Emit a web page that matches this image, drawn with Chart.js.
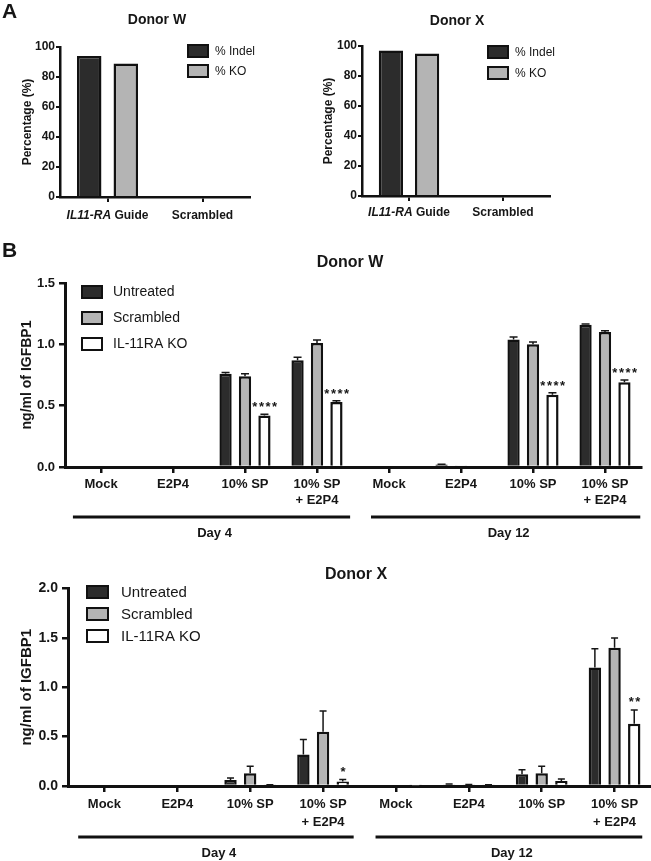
<!DOCTYPE html>
<html>
<head>
<meta charset="utf-8">
<script src="https://cdn.jsdelivr.net/npm/chart.js@4.4.1/dist/chart.umd.min.js"></script>
<style>
  body { margin: 0; background: #fff; }
  #fig { position: relative; width: 651px; height: 861px; overflow: hidden; background: #fff; }
  #fig canvas { position: absolute; }
</style>
</head>
<body>
<div id="fig">
  <canvas id="aW" width="320" height="235" style="left:0;top:0"></canvas>
  <canvas id="aX" width="331" height="235" style="left:320px;top:0"></canvas>
  <canvas id="bW" width="651" height="315" style="left:0;top:235px"></canvas>
  <canvas id="bX" width="651" height="311" style="left:0;top:550px"></canvas>
</div>
<script>
// ---- panel A: editing efficiency ----
const aCategories = ['IL11-RA Guide', 'Scrambled'];
const aGeneName = 'IL11-RA';   // printed in italics
const aSeries = ['% Indel', '% KO'];
const aTicks = [0, 20, 40, 60, 80, 100];
const aDonorWIndel = [94, 0.6];
const aDonorWKO = [89, 0.6];
const aDonorXIndel = [97, 0];
const aDonorXKO = [95, 0];

// ---- panel B: IGFBP1 secretion ----
const bCategories = ['Mock', 'E2P4', '10% SP', ['10% SP', '+ E2P4'],
                     'Mock', 'E2P4', '10% SP', ['10% SP', '+ E2P4']];
const bGroups = ['Day 4', 'Day 12'];
const bGroupSpans = [[0, 3], [4, 7]];
const bSeries = ['Untreated', 'Scrambled', 'IL-11RA KO'];
const bWTicks = [0, 0.5, 1.0, 1.5];
const bXTicks = [0, 0.5, 1.0, 1.5, 2.0];

// donor W
const wUntreated    = [0, 0, 0.76, 0.87, 0, 0.02, 1.04, 1.16];
const wUntreatedErr = [0, 0, 0.01, 0.025, 0, 0.003, 0.02, 0.005];
const wScrambled    = [0, 0, 0.74, 1.01, 0, 0.005, 1.00, 1.10];
const wScrambledErr = [0, 0, 0.02, 0.025, 0, 0, 0.02, 0.01];
const wKO           = [0, 0, 0.42, 0.53, 0, 0, 0.59, 0.69];
const wKOErr        = [0, 0, 0.01, 0.01, 0, 0, 0.015, 0.02];
const wKOStars      = ['', '', '****', '****', '', '', '****', '****'];

// donor X
const xUntreated    = [0, 0, 0.06, 0.32, 0, 0.015, 0.12, 1.20];
const xUntreatedErr = [0, 0, 0.02, 0.15, 0, 0.005, 0.045, 0.19];
const xScrambled    = [0, 0, 0.13, 0.55, 0, 0.01, 0.13, 1.40];
const xScrambledErr = [0, 0, 0.07, 0.21, 0, 0.005, 0.07, 0.10];
const xKO           = [0, 0, 0.01, 0.045, 0.003, 0.01, 0.05, 0.63];
const xKOErr        = [0, 0, 0.003, 0.02, 0, 0.003, 0.02, 0.14];
const xKOStars      = ['', '', '', '*', '', '', '', '**'];

const FONT = "'Liberation Sans', Arial, Helvetica, sans-serif";
const INK = '#161616';
const EDGE = '#111111';
const DARK = '#2c2c2c';
const GRAY = '#b4b4b4';

Chart.defaults.font.family = FONT;
Chart.defaults.color = INK;
Chart.defaults.animation = false;

function figurePlugin(spec) {
  return {
    id: 'figure_' + spec.id,
    afterDatasetsDraw(chart) {
      const ctx = chart.ctx, ys = chart.scales.y;
      ctx.save();
      chart.data.datasets.forEach((ds, k) => {
        chart.getDatasetMeta(k).data.forEach((bar, i) => {
          const err = ds.errors ? ds.errors[i] : 0;
          const top = ys.getPixelForValue(ds.data[i] + err);
          if (err > 0) {
            ctx.strokeStyle = INK;
            ctx.lineWidth = spec.errWidth;
            ctx.beginPath();
            ctx.moveTo(bar.x, bar.y);
            ctx.lineTo(bar.x, top);
            ctx.moveTo(bar.x - spec.cap, top);
            ctx.lineTo(bar.x + spec.cap, top);
            ctx.stroke();
          }
          if (ds.stars && ds.stars[i]) {
            ctx.font = `bold ${spec.starSize}px ${FONT}`;
            ctx.fillStyle = INK;
            ctx.textAlign = 'center';
            ctx.textBaseline = 'alphabetic';
            ctx.letterSpacing = spec.starSpacing;
            ctx.fillText(ds.stars[i], bar.x + 1, top - spec.starGap);
            ctx.letterSpacing = '0px';
          }
        });
      });
      ctx.restore();
    },
    afterDraw(chart) {
      const ctx = chart.ctx, xs = chart.scales.x, area = chart.chartArea;
      ctx.save();
      ctx.fillStyle = INK;
      ctx.textBaseline = 'middle';

      if (spec.letter) {
        ctx.font = `bold 21px ${FONT}`;
        ctx.textAlign = 'left';
        ctx.fillText(spec.letter, 2, spec.letterY);
      }

      ctx.font = `bold ${spec.titleSize}px ${FONT}`;
      ctx.textAlign = 'center';
      ctx.fillText(spec.title, spec.titleX, spec.titleY);

      // legend
      const lg = spec.legend;
      chart.data.datasets.forEach((ds, k) => {
        const cy = lg.y + k * lg.row;
        ctx.fillStyle = ds.backgroundColor;
        ctx.fillRect(lg.x, cy - lg.h / 2, lg.w, lg.h);
        ctx.strokeStyle = EDGE;
        ctx.lineWidth = 2;
        ctx.strokeRect(lg.x, cy - lg.h / 2, lg.w, lg.h);
        ctx.fillStyle = INK;
        ctx.font = `${lg.size}px ${FONT}`;
        ctx.textAlign = 'left';
        ctx.fillText(ds.label, lg.x + lg.w + lg.gap, cy + 0.5);
      });

      // category labels with an italic gene name (panel A)
      if (spec.xLabelDy) {
        chart.data.labels.forEach((lab, i) => {
          const cx = xs.getPixelForValue(i);
          const cy = area.bottom + spec.xLabelDy;
          const ital = lab.startsWith(aGeneName) ? aGeneName : '';
          const rest = lab.slice(ital.length);
          ctx.font = `italic bold 12px ${FONT}`;
          const w1 = ctx.measureText(ital).width;
          ctx.font = `bold 12px ${FONT}`;
          const w2 = ctx.measureText(rest).width;
          let x0 = cx - (w1 + w2) / 2;
          ctx.textAlign = 'left';
          ctx.font = `italic bold 12px ${FONT}`;
          ctx.fillText(ital, x0, cy);
          ctx.font = `bold 12px ${FONT}`;
          ctx.fillText(rest, x0 + w1, cy);
        });
      }

      // day group bars (panel B)
      if (spec.groups) {
        const cw = xs.getPixelForValue(1) - xs.getPixelForValue(0);
        bGroups.forEach((name, g) => {
          const x0 = xs.getPixelForValue(bGroupSpans[g][0]) - spec.groupInset[g][0] * cw;
          const x1 = xs.getPixelForValue(bGroupSpans[g][1]) + spec.groupInset[g][1] * cw;
          const ly = area.bottom + spec.groupLineDy;
          ctx.strokeStyle = EDGE;
          ctx.lineWidth = 3;
          ctx.beginPath();
          ctx.moveTo(x0, ly);
          ctx.lineTo(x1, ly);
          ctx.stroke();
          ctx.font = `bold 13px ${FONT}`;
          ctx.textAlign = 'center';
          ctx.fillText(name, (x0 + x1) / 2 + 3, area.bottom + spec.groupLabelDy);
        });
      }
      ctx.restore();
    }
  };
}

function panelA(id, indel, ko, lay) {
  return new Chart(document.getElementById(id), {
    type: 'bar',
    data: {
      labels: aCategories,
      datasets: [
        { label: aSeries[0], data: indel, backgroundColor: DARK, borderColor: EDGE, borderWidth: 2.5 },
        { label: aSeries[1], data: ko, backgroundColor: GRAY, borderColor: EDGE, borderWidth: 2.5 }
      ]
    },
    options: {
      responsive: false,
      animation: false,
      layout: { padding: lay.pad },
      datasets: { bar: { categoryPercentage: 0.77, barPercentage: 0.67 } },
      plugins: { legend: { display: false }, tooltip: { enabled: false } },
      scales: {
        x: {
          grid: { drawOnChartArea: false, offset: false, tickLength: 5, lineWidth: 2, color: EDGE },
          border: { width: 2.5, color: EDGE },
          ticks: { display: false },
          afterFit: s => { s.height = lay.xh; }
        },
        y: {
          min: 0, max: 100,
          afterBuildTicks: s => { s.ticks = aTicks.map(v => ({ value: v })); },
          afterFit: s => { s.width = lay.yw; },
          grid: { drawOnChartArea: false, tickLength: 4, lineWidth: 2, color: EDGE },
          border: { width: 2.5, color: EDGE },
          ticks: { font: { size: 12, weight: 'bold' }, padding: 1, color: INK },
          title: { display: true, text: 'Percentage (%)', color: INK,
                   font: { size: 12, weight: 'bold' }, padding: { top: lay.titlePad, bottom: 0 } }
        }
      }
    },
    plugins: [figurePlugin(lay.spec)]
  });
}

function panelB(id, series, errs, stars, ticks, lay) {
  const fills = [DARK, GRAY, '#ffffff'];
  return new Chart(document.getElementById(id), {
    type: 'bar',
    data: {
      labels: bCategories,
      datasets: bSeries.map((name, k) => ({
        label: name, data: series[k], errors: errs[k], stars: k === 2 ? stars : null,
        backgroundColor: fills[k], borderColor: EDGE, borderWidth: 2.5
      }))
    },
    options: {
      responsive: false,
      animation: false,
      layout: { padding: lay.pad },
      datasets: { bar: { categoryPercentage: 0.81, barPercentage: 0.63 } },
      plugins: { legend: { display: false }, tooltip: { enabled: false } },
      scales: {
        x: {
          grid: { drawOnChartArea: false, offset: false, tickLength: 6, lineWidth: 2.5, color: EDGE },
          border: { width: 3, color: EDGE },
          ticks: { font: { size: 13, weight: 'bold', lineHeight: lay.xLine }, padding: 4, color: INK,
                   maxRotation: 0, autoSkip: false },
          afterFit: s => { s.height = lay.xh; }
        },
        y: {
          min: 0, max: ticks[ticks.length - 1],
          afterBuildTicks: s => { s.ticks = ticks.map(v => ({ value: v })); },
          afterFit: s => { s.width = lay.yw; },
          grid: { drawOnChartArea: false, tickLength: 6, lineWidth: 2.5, color: EDGE },
          border: { width: 3, color: EDGE },
          ticks: { font: { size: lay.yTickSize, weight: 'bold' }, padding: 4, color: INK,
                   callback: v => v.toFixed(1) },
          title: { display: true, text: 'ng/ml of IGFBP1', color: INK,
                   font: { size: lay.yTitleSize, weight: 'bold' }, padding: { top: lay.titlePad, bottom: 0 } }
        }
      }
    },
    plugins: [figurePlugin(lay.spec)]
  });
}

panelA('aW', aDonorWIndel, aDonorWKO, {
  pad: { top: 47, left: 0, right: 70, bottom: 0 }, xh: 38, yw: 60, titlePad: 20,
  spec: { id: 'aW', letter: 'A', letterY: 12, title: 'Donor W', titleSize: 14, titleX: 157, titleY: 20,
          legend: { x: 188, y: 51, row: 20, w: 20, h: 12, gap: 7, size: 12 }, xLabelDy: 19 }
});

panelA('aX', aDonorXIndel, aDonorXKO, {
  pad: { top: 46, left: 0, right: 101, bottom: 0 }, xh: 39, yw: 42, titlePad: 1,
  spec: { id: 'aX', title: 'Donor X', titleSize: 14, titleX: 137, titleY: 21,
          legend: { x: 168, y: 52, row: 21, w: 20, h: 12, gap: 7, size: 12 }, xLabelDy: 17 }
});

panelB('bW', [wUntreated, wScrambled, wKO], [wUntreatedErr, wScrambledErr, wKOErr], wKOStars, bWTicks, {
  pad: { top: 48, left: 10, right: 10, bottom: 0 }, xh: 83, yw: 55, titlePad: 9,
  xLine: 1.2, yTickSize: 13, yTitleSize: 14,
  spec: { id: 'bW', letter: 'B', letterY: 16, title: 'Donor W', titleSize: 16, titleX: 350, titleY: 28,
          legend: { x: 82, y: 57, row: 26, w: 20, h: 12, gap: 11, size: 14 },
          errWidth: 1.5, cap: 4, starSize: 13, starSpacing: '1.5px', starGap: 3,
          groups: true, groupInset: [[0.39, 0.46], [0.25, 0.49]], groupLineDy: 50, groupLabelDy: 66 }
});

panelB('bX', [xUntreated, xScrambled, xKO], [xUntreatedErr, xScrambledErr, xKOErr], xKOStars, bXTicks, {
  pad: { top: 38.5, left: 10, right: 0, bottom: 0 }, xh: 75, yw: 58, titlePad: 8,
  xLine: 1.35, yTickSize: 14, yTitleSize: 15,
  spec: { id: 'bX', title: 'Donor X', titleSize: 16, titleX: 356, titleY: 25,
          legend: { x: 87, y: 42, row: 22, w: 21, h: 12, gap: 13, size: 15 },
          errWidth: 1.5, cap: 3.5, starSize: 13, starSpacing: '1.5px', starGap: 4,
          groups: true, groupInset: [[0.36, 0.42], [0.28, 0.38]], groupLineDy: 51, groupLabelDy: 67 }
});
</script>
</body>
</html>
